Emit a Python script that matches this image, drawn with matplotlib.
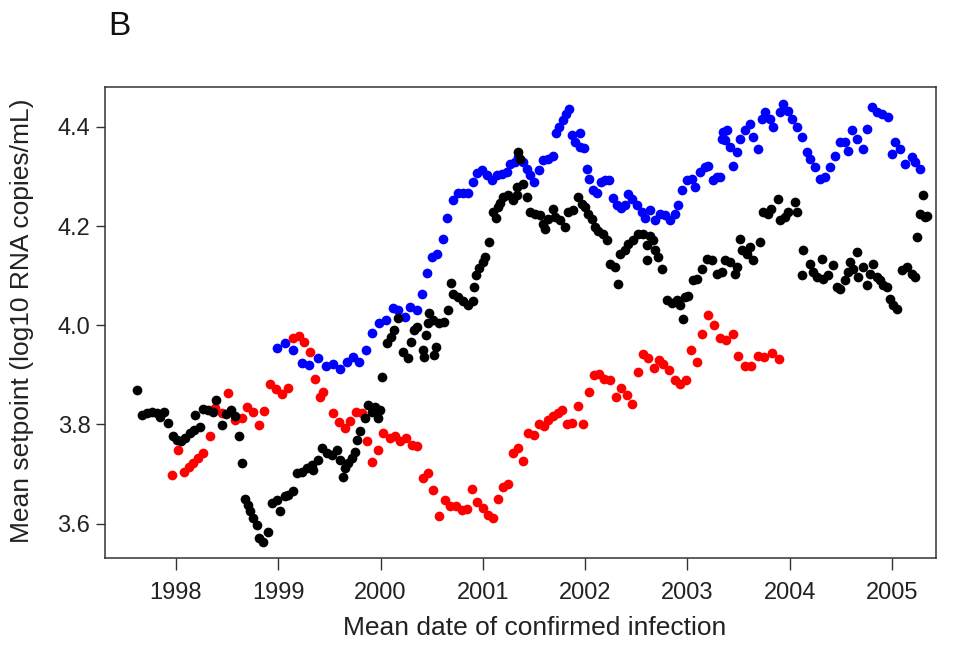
import matplotlib
matplotlib.use("Agg")
import matplotlib.pyplot as plt

plt.rcParams['font.family'] = ['Liberation Sans', 'DejaVu Sans']

# mean setpoint per group (year, log10 copies/mL)
black_year = [1997.619, 1997.665, 1997.714, 1997.762, 1997.811, 1997.844, 1997.883, 1997.922, 1997.974, 1998.007,
              1998.049, 1998.088, 1998.137, 1998.179, 1998.235, 1998.186, 1998.267, 1998.316, 1998.365, 1998.388,
              1998.447, 1998.494, 1998.538, 1998.577, 1998.616, 1998.642, 1998.674, 1998.701, 1998.723, 1998.756,
              1998.789, 1998.811, 1998.853, 1998.902, 1998.935, 1998.984, 1999.017, 1999.066, 1999.095, 1999.147,
              1999.180, 1999.229, 1999.278, 1999.326, 1999.342, 1999.391, 1999.424, 1999.473, 1999.522, 1999.571,
              1999.603, 1999.635, 1999.652, 1999.684, 1999.717, 1999.750, 1999.766, 1999.799, 1999.848, 1999.880,
              1999.913, 1999.945, 1999.978, 1999.994, 2000.011,
              2000.064, 2000.103, 2000.135, 2000.174, 2000.217, 2000.266, 2000.298, 2000.331, 2000.357, 2000.413,
              2000.429, 2000.445, 2000.462, 2000.478, 2000.511, 2000.527, 2000.543, 2000.575, 2000.624, 2000.657,
              2000.690, 2000.706, 2000.755, 2000.804, 2000.852, 2000.901, 2000.917, 2000.934, 2000.966, 2000.999,
              2001.021, 2001.063, 2001.096, 2001.128, 2001.145, 2001.167, 2001.199, 2001.248, 2001.297, 2001.330,
              2001.346, 2001.363, 2001.338, 2001.395, 2001.428, 2001.460, 2001.509, 2001.558, 2001.590, 2001.607,
              2001.639, 2001.688, 2001.705, 2001.754, 2001.803, 2001.835, 2001.884, 2001.933, 2001.966, 2001.998,
              2002.030, 2002.064, 2002.096, 2002.128, 2002.177, 2002.210, 2002.242, 2002.291, 2002.324, 2002.340,
              2002.389, 2002.421, 2002.470, 2002.519, 2002.568, 2002.601, 2002.601, 2002.634, 2002.666, 2002.682,
              2002.715, 2002.748, 2002.797, 2002.846, 2002.894, 2002.927, 2002.959, 2002.976, 2003.008, 2003.057,
              2003.090, 2003.139, 2003.188, 2003.237, 2003.285, 2003.334, 2003.367, 2003.415, 2003.464, 2003.480,
              2003.513, 2003.530, 2003.578, 2003.611, 2003.643, 2003.708, 2003.741, 2003.790, 2003.822, 2003.888,
              2003.904, 2003.953, 2003.986, 2004.051, 2004.067, 2004.133, 2004.117, 2004.198, 2004.231, 2004.264,
              2004.313, 2004.329, 2004.378, 2004.427, 2004.459, 2004.492, 2004.541, 2004.574, 2004.590, 2004.623,
              2004.655, 2004.672, 2004.721, 2004.753, 2004.786, 2004.819, 2004.851, 2004.883, 2004.916, 2004.949,
              2004.981, 2005.014, 2005.047, 2005.096, 2005.144, 2005.193, 2005.226, 2005.242, 2005.275, 2005.324,
              2005.308, 2005.340]
black_val = [3.870, 3.819, 3.823, 3.826, 3.823, 3.815, 3.825, 3.803, 3.777, 3.769,
             3.766, 3.772, 3.783, 3.789, 3.795, 3.819, 3.831, 3.829, 3.826, 3.850,
             3.799, 3.822, 3.829, 3.817, 3.777, 3.723, 3.650, 3.638, 3.625, 3.611,
             3.598, 3.571, 3.564, 3.584, 3.642, 3.648, 3.625, 3.655, 3.658, 3.665,
             3.702, 3.705, 3.712, 3.719, 3.709, 3.729, 3.752, 3.742, 3.739, 3.749,
             3.729, 3.695, 3.712, 3.722, 3.732, 3.745, 3.769, 3.786, 3.813, 3.840,
             3.826, 3.836, 3.813, 3.829, 3.896,
             3.964, 3.977, 3.991, 4.014, 3.947, 3.934, 3.967, 3.991, 3.997, 3.950,
             3.937, 3.980, 4.004, 4.024, 4.011, 3.940, 3.957, 4.004, 4.007, 4.031,
             4.085, 4.064, 4.058, 4.048, 4.041, 4.048, 4.078, 4.101, 4.115, 4.128,
             4.138, 4.168, 4.229, 4.216, 4.239, 4.246, 4.259, 4.262, 4.252, 4.262,
             4.349, 4.336, 4.279, 4.285, 4.258, 4.228, 4.225, 4.222, 4.205, 4.195,
             4.215, 4.235, 4.218, 4.212, 4.198, 4.228, 4.232, 4.258, 4.245, 4.238,
             4.225, 4.215, 4.198, 4.191, 4.185, 4.171, 4.124, 4.117, 4.084, 4.144,
             4.151, 4.164, 4.171, 4.185, 4.185, 4.161, 4.131, 4.181, 4.171, 4.151,
             4.138, 4.114, 4.050, 4.044, 4.050, 4.040, 4.013, 4.057, 4.060, 4.091,
             4.094, 4.114, 4.134, 4.131, 4.104, 4.107, 4.131, 4.128, 4.104, 4.117,
             4.174, 4.151, 4.144, 4.158, 4.131, 4.168, 4.228, 4.225, 4.235, 4.255,
             4.212, 4.218, 4.228, 4.248, 4.228, 4.151, 4.101, 4.124, 4.107, 4.097,
             4.134, 4.094, 4.101, 4.121, 4.077, 4.074, 4.091, 4.107, 4.128, 4.114,
             4.148, 4.097, 4.117, 4.081, 4.104, 4.124, 4.097, 4.091, 4.081, 4.077,
             4.054, 4.040, 4.033, 4.111, 4.117, 4.104, 4.097, 4.178, 4.225, 4.218,
             4.262, 4.220]

blue_year = [1998.984, 1999.066, 1999.147, 1999.229, 1999.301, 1999.384, 1999.467, 1999.538, 1999.603, 1999.669,
             1999.730, 1999.794, 1999.857, 1999.918, 1999.987, 2000.053, 2000.118, 2000.173, 2000.239, 2000.287,
             2000.353, 2000.402, 2000.451, 2000.500, 2000.548, 2000.607, 2000.652, 2000.705, 2000.760, 2000.808,
             2000.857, 2000.900, 2000.939, 2000.988, 2001.037, 2001.086, 2001.135, 2001.184, 2001.233, 2001.265,
             2001.314, 2001.346, 2001.395, 2001.428, 2001.460, 2001.500, 2001.551, 2001.590, 2001.639, 2001.682,
             2001.715, 2001.747, 2001.780, 2001.812, 2001.845, 2001.868, 2001.901, 2001.950, 2001.950, 2001.989,
             2002.015, 2002.041, 2002.079, 2002.112, 2002.152, 2002.194, 2002.235, 2002.275, 2002.314, 2002.347,
             2002.389, 2002.421, 2002.462, 2002.506, 2002.552, 2002.589, 2002.638, 2002.682, 2002.731, 2002.780,
             2002.829, 2002.878, 2002.910, 2002.943, 2002.992, 2003.041, 2003.073, 2003.122, 2003.171, 2003.203,
             2003.252, 2003.285, 2003.317, 2003.334, 2003.350, 2003.367, 2003.383, 2003.415, 2003.448, 2003.481,
             2003.513, 2003.562, 2003.611, 2003.643, 2003.692, 2003.725, 2003.757, 2003.806, 2003.839, 2003.904,
             2003.936, 2003.985, 2004.018, 2004.067, 2004.116, 2004.165, 2004.198, 2004.247, 2004.295, 2004.344,
             2004.393, 2004.442, 2004.491, 2004.540, 2004.572, 2004.605, 2004.654, 2004.719, 2004.752, 2004.801,
             2004.850, 2004.899, 2004.963, 2004.996, 2005.029, 2005.078, 2005.127, 2005.192, 2005.225, 2005.274]
blue_val = [3.954, 3.964, 3.950, 3.924, 3.920, 3.935, 3.917, 3.922, 3.911, 3.926,
            3.936, 3.925, 3.950, 3.985, 4.004, 4.010, 4.034, 4.031, 4.017, 4.037,
            4.031, 4.064, 4.106, 4.137, 4.144, 4.173, 4.216, 4.252, 4.267, 4.266,
            4.267, 4.289, 4.307, 4.313, 4.303, 4.293, 4.303, 4.306, 4.309, 4.326,
            4.330, 4.340, 4.330, 4.316, 4.303, 4.289, 4.313, 4.333, 4.336, 4.341,
            4.387, 4.400, 4.413, 4.427, 4.437, 4.383, 4.370, 4.387, 4.360, 4.357,
            4.316, 4.294, 4.273, 4.266, 4.289, 4.293, 4.293, 4.256, 4.242, 4.236,
            4.242, 4.264, 4.255, 4.242, 4.228, 4.216, 4.232, 4.212, 4.225, 4.222,
            4.212, 4.225, 4.242, 4.272, 4.292, 4.295, 4.279, 4.309, 4.319, 4.322,
            4.292, 4.299, 4.299, 4.376, 4.389, 4.373, 4.393, 4.359, 4.322, 4.349,
            4.376, 4.393, 4.406, 4.379, 4.356, 4.416, 4.430, 4.416, 4.399, 4.430,
            4.446, 4.433, 4.416, 4.399, 4.379, 4.349, 4.336, 4.319, 4.295, 4.299,
            4.319, 4.342, 4.369, 4.369, 4.352, 4.393, 4.376, 4.356, 4.396, 4.440,
            4.430, 4.426, 4.420, 4.346, 4.369, 4.356, 4.325, 4.339, 4.329, 4.315]

red_year = [1997.958, 1998.022, 1998.081, 1998.127, 1998.169, 1998.215, 1998.267, 1998.332, 1998.386, 1998.447,
            1998.511, 1998.577, 1998.642, 1998.699, 1998.756, 1998.811, 1998.865, 1998.919, 1998.980, 1999.033,
            1999.095, 1999.144, 1999.200, 1999.254, 1999.307, 1999.359, 1999.408, 1999.440, 1999.538, 1999.596,
            1999.652, 1999.701, 1999.765, 1999.815, 1999.864, 1999.913, 1999.978, 2000.027, 2000.092, 2000.141,
            2000.190, 2000.248, 2000.304, 2000.353, 2000.418, 2000.466, 2000.515, 2000.574, 2000.630, 2000.678,
            2000.737, 2000.793, 2000.842, 2000.891, 2000.945, 2001.004, 2001.053, 2001.102, 2001.151, 2001.194,
            2001.248, 2001.297, 2001.346, 2001.395, 2001.444, 2001.503, 2001.549, 2001.600, 2001.639, 2001.688,
            2001.731, 2001.770, 2001.819, 2001.868, 2001.927, 2001.981, 2002.037, 2002.089, 2002.135, 2002.187,
            2002.242, 2002.298, 2002.350, 2002.406, 2002.455, 2002.513, 2002.568, 2002.617, 2002.676, 2002.721,
            2002.763, 2002.819, 2002.878, 2002.927, 2002.982, 2003.034, 2003.090, 2003.145, 2003.203, 2003.262,
            2003.322, 2003.381, 2003.443, 2003.499, 2003.562, 2003.621, 2003.687, 2003.753, 2003.824, 2003.893]
red_val = [3.699, 3.749, 3.705, 3.715, 3.722, 3.733, 3.742, 3.776, 3.833, 3.824,
           3.864, 3.810, 3.814, 3.836, 3.825, 3.799, 3.827, 3.882, 3.872, 3.862,
           3.873, 3.974, 3.978, 3.966, 3.946, 3.891, 3.856, 3.866, 3.824, 3.806,
           3.793, 3.808, 3.825, 3.823, 3.766, 3.725, 3.749, 3.783, 3.772, 3.776,
           3.766, 3.772, 3.759, 3.757, 3.692, 3.703, 3.667, 3.616, 3.647, 3.635,
           3.635, 3.628, 3.629, 3.670, 3.643, 3.631, 3.618, 3.611, 3.650, 3.674,
           3.680, 3.742, 3.752, 3.727, 3.783, 3.779, 3.801, 3.797, 3.809, 3.817,
           3.823, 3.829, 3.801, 3.804, 3.837, 3.801, 3.866, 3.900, 3.902, 3.891,
           3.890, 3.855, 3.873, 3.860, 3.842, 3.905, 3.942, 3.934, 3.913, 3.930,
           3.922, 3.909, 3.890, 3.882, 3.890, 3.950, 3.925, 3.983, 4.021, 4.000,
           3.975, 3.970, 3.982, 3.939, 3.918, 3.918, 3.939, 3.937, 3.944, 3.933]

x_ticks = [1998, 1999, 2000, 2001, 2002, 2003, 2004, 2005]
y_ticks = [3.6, 3.8, 4.0, 4.2, 4.4]

fig = plt.figure(figsize=(9.54, 6.51), dpi=100)
ax = fig.add_axes([0.110, 0.143, 0.871, 0.723])

ms = 7
ax.plot(blue_year, blue_val, 'o', color='#0000ff', ms=ms, mew=0, ls='none')
ax.plot(red_year, red_val, 'o', color='#ff0000', ms=ms, mew=0, ls='none')
ax.plot(black_year, black_val, 'o', color='#000000', ms=ms, mew=0, ls='none')

ax.set_xlim(1997.306, 2005.429)
ax.set_ylim(3.531, 4.480)
ax.set_xticks(x_ticks)
ax.set_xticklabels([str(t) for t in x_ticks])
ax.set_yticks(y_ticks)
ax.set_yticklabels(['%.1f' % t for t in y_ticks])
ax.tick_params(direction='out', width=1, color='#333333', labelsize=17, labelcolor='#222222')
ax.tick_params(axis='x', length=8.5, pad=9)
ax.tick_params(axis='y', length=6.5, pad=4)
for s in ax.spines.values():
    s.set_color('#333333')
    s.set_linewidth(1.1)

fig.text(0.560, 0.035, 'Mean date of confirmed infection', fontsize=19, color='#222222',
         ha='center', va='center')
fig.text(0.023, 0.508, 'Mean setpoint (log10 RNA copies/mL)', fontsize=19, color='#222222',
         ha='center', va='center', rotation=90)

fig.text(0.113, 0.960, 'B', fontsize=24, color='#111111', va='center', ha='left')

fig.savefig('out.png', dpi=100)
